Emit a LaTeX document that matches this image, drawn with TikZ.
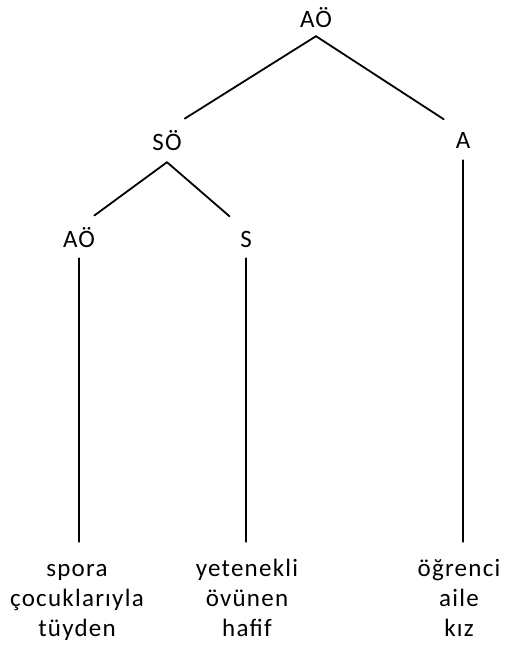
\documentclass[tikz,border=0pt]{standalone}
\usepackage{fontspec}
\setmainfont{Carlito}[LetterSpace=5]
\usepackage{tikz}
\usetikzlibrary{positioning}

\begin{document}
\begin{tikzpicture}[x=1pt, y=-1pt, label/.style={anchor=base, inner sep=0pt, font=\fontsize{25}{30}\selectfont}, leaf/.style={label, align=center}, branch/.style={line width=1.8pt, line cap=round}]
    \useasboundingbox (0,0) rectangle (506,648);
    
    %Nodes
    \node[label, text depth=9pt](root) at (316,27) {AÖ};
    \node[label, text depth=12pt](so) at (167,150) {SÖ};
    \node[label, text depth=12pt](a) at (463,148) {A};
    \node[label, text depth=11pt](ao) at (79,247) {AÖ};
    \node[label, text depth=11pt](s) at (246,247) {S};
    \node[leaf](leafao) at (77,636) {\rule{0pt}{18pt}spora\\çocuklarıyla\\tüyden};
    \node[leaf](leafs) at (247,636) {\rule{0pt}{18pt}yetenekli\\övünen\\hafif};
    \node[leaf](leafa) at (459,636) {\rule{0pt}{18pt}öğrenci\\aile\\kız};
    
    %Lines
    \draw[branch, shorten >=21pt] (root.south) -- (so.north);
    \draw[branch, shorten >=23pt] (root.south) -- (a.north);
    \draw[branch, shorten >=19pt] (so.south) -- (ao.north);
    \draw[branch, shorten >=22pt] (so.south) -- (s.north);
    \draw[branch, shorten >=16pt] (ao.south) -- (ao.south |- leafao.north);
    \draw[branch, shorten >=16pt] (s.south) -- (s.south |- leafs.north);
    \draw[branch, shorten >=16pt] (a.south) -- (a.south |- leafa.north);
    
\end{tikzpicture}
\end{document}
